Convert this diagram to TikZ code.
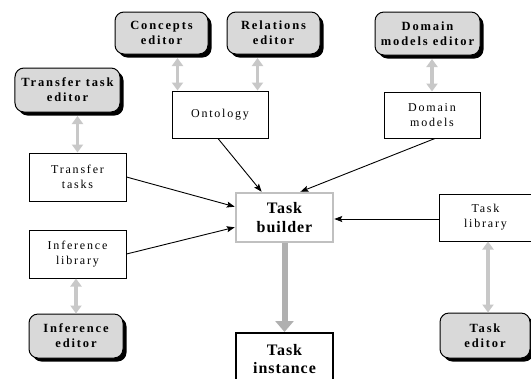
\documentclass[tikz,border=0pt]{standalone}
\usepackage{fontspec}
\setmainfont{Liberation Serif}
\newfontfamily\spaced[LetterSpace=15]{Liberation Serif}
\newfontfamily\spacedtight[LetterSpace=6]{Liberation Serif}
\usetikzlibrary{arrows.meta,shadows,calc}
\definecolor{edfill}{RGB}{217,217,217}
\definecolor{linkgray}{RGB}{200,200,200}
\definecolor{buildergray}{RGB}{192,192,192}
\definecolor{flowgray}{RGB}{176,176,176}
\begin{document}
\begin{tikzpicture}[x=1bp,y=-1bp,
  editor/.style={draw=black, line width=1bp, fill=edfill, rounded corners=9bp,
    minimum width=93bp, minimum height=42bp, align=center, inner sep=0pt,
    font=\spaced\bfseries\fontsize{12.5bp}{15bp}\selectfont,
    drop shadow={shadow xshift=3.5bp, shadow yshift=-3.5bp, fill=black, opacity=1}},
  store/.style={draw=black, line width=1bp, fill=white,
    minimum width=97bp, minimum height=48bp, align=center, inner sep=0pt,
    font=\spaced\fontsize{12bp}{15bp}\selectfont},
  core/.style={line width=2.5bp, fill=white, minimum width=97bp, align=center, inner sep=0pt,
    font=\spacedtight\bfseries\fontsize{16bp}{18.5bp}\selectfont},
  link/.style={draw=linkgray, line width=3.5bp,
    {Triangle[width=11bp,length=8bp]}-{Triangle[width=11bp,length=8bp]}},
  feed/.style={draw=black, line width=0.9bp, -{Stealth[length=8bp,width=6bp,inset=1.5bp]}},
  flow/.style={draw=flowgray, line width=6bp, -{Triangle[width=18bp,length=11bp]}},
]
\fill[white] (0,0) rectangle (531,378);
\useasboundingbox (0,0) rectangle (531,378);

% editors
\node[editor] (concepts) at (161.5,33) {Concepts\\editor};
\node[editor] (relations) at (273.5,33) {Relations\\editor};
\node[editor, minimum width=105bp, minimum height=43bp] (domed) at (427.5,33.5) {Domain\\models editor};
\node[editor, minimum width=105bp, minimum height=44bp] (transed) at (67.5,90) {Transfer task\\editor};
\node[editor, minimum width=94bp, minimum height=44bp] (infed) at (76,336) {Inference\\editor};
\node[editor, minimum width=90bp, minimum height=45bp] (tasked) at (485,335.5) {Task\\editor};

% knowledge stores
\node[store, minimum width=96bp, minimum height=47bp] (onto) at (220,114.5) {Ontology};
\node[store, minimum width=96bp, minimum height=46bp] (dommod) at (432,115) {Domain\\models};
\node[store] (transfer) at (77.5,177) {Transfer\\tasks};
\node[store] (inflib) at (77.5,254) {Inference\\library};
\node[store, minimum width=93bp, minimum height=47bp] (tasklib) at (485.5,217.5) {Task\\library};

% builder and its output
\node[core, draw=buildergray, minimum height=49bp] (builder) at (284.5,217.5) {Task\\builder};
\node[core, draw=black, line width=2bp, minimum height=52bp] (instance) at (284.5,359) {Task\\instance};

% editor links
\draw[link] ([xshift=6bp]onto.north west) -- ([xshift=6bp,yshift=-3.5bp]onto.north west |- concepts.south);
\draw[link] ([xshift=-11bp]onto.north east) -- ([xshift=-11bp,yshift=-3.5bp]onto.north east |- relations.south);
\draw[link] (dommod.north) -- ([yshift=-3.5bp]dommod.north |- domed.south);
\draw[link] (transfer.north) -- ([yshift=-3.5bp]transfer.north |- transed.south);
\draw[link] ([xshift=-1.5bp]inflib.south) -- ([xshift=-1.5bp]inflib.south |- infed.north);
\draw[link] ([xshift=2.5bp]tasklib.south) -- ([xshift=2.5bp]tasklib.south |- tasked.north);

% inputs of the builder
\draw[feed] ([xshift=-2bp]onto.south) -- ($(builder.north west)!0.27!(builder.north east)$);
\draw[feed] ($(dommod.south west)!0.53!(dommod.south east)$) -- ($(builder.north west)!0.66!(builder.north east)$);
\draw[feed] (transfer.east) -- ($(builder.north west)!0.29!(builder.south west)$);
\draw[feed] (inflib.east) -- ($(builder.north west)!0.69!(builder.south west)$);
\draw[feed] ([yshift=-1.5bp]tasklib.west) -- ([yshift=-1.5bp]tasklib.west -| builder.east);

% result
\draw[flow] (builder.south) -- (instance.north);
\end{tikzpicture}
\end{document}
